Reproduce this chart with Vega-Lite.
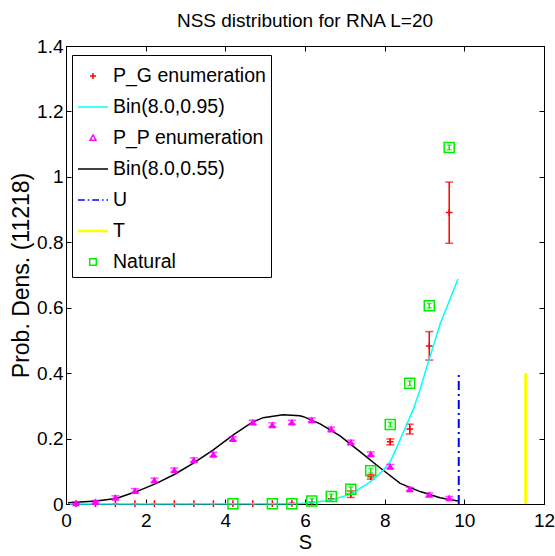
{
  "$schema": "https://vega.github.io/schema/vega-lite/v6.json",
  "width": 478,
  "height": 458,
  "autosize": {"type": "none"},
  "padding": {"left": 66, "top": 46, "right": 11, "bottom": 52},
  "background": "white",
  "title": {"text": "NSS distribution for RNA L=20", "font": "Liberation Sans", "fontSize": 19, "fontWeight": "normal", "color": "black", "offset": 6, "anchor": "middle"},
  "config": {
    "font": "Liberation Sans",
    "view": {"stroke": "black", "strokeWidth": 1},
    "axis": {"grid": false, "domainColor": "black", "domainWidth": 1, "tickColor": "black", "tickSize": -5, "tickWidth": 1, "labelColor": "black", "labelFont": "Liberation Sans", "labelFontSize": 19, "labelFlush": false, "labelOverlap": false, "titleFont": "Liberation Sans", "titleFontSize": 20, "titleFontWeight": "normal", "titleColor": "black"}
  },
  "datasets": {
    "pg": [
      {"S": 0.25, "P": 0.001}, {"S": 0.74, "P": 0.001}, {"S": 1.24, "P": 0.001}, {"S": 1.73, "P": 0.001},
      {"S": 2.22, "P": 0.001}, {"S": 2.72, "P": 0.001}, {"S": 3.21, "P": 0.001}, {"S": 3.70, "P": 0.001},
      {"S": 4.19, "P": 0.001}, {"S": 4.69, "P": 0.001}, {"S": 5.18, "P": 0.001}, {"S": 5.67, "P": 0.002},
      {"S": 6.17, "P": 0.005}, {"S": 6.66, "P": 0.016},
      {"S": 7.15, "P": 0.03, "lo": 0.02, "hi": 0.04},
      {"S": 7.65, "P": 0.083, "lo": 0.076, "hi": 0.09},
      {"S": 8.14, "P": 0.19, "lo": 0.181, "hi": 0.199},
      {"S": 8.63, "P": 0.229, "lo": 0.214, "hi": 0.244},
      {"S": 9.12, "P": 0.483, "lo": 0.44, "hi": 0.527},
      {"S": 9.62, "P": 0.891, "lo": 0.797, "hi": 0.984}
    ],
    "pp": [
      {"S": 0.25, "P": 0.003, "lo": 0.0, "hi": 0.007}, {"S": 0.74, "P": 0.007, "lo": 0.003, "hi": 0.011},
      {"S": 1.24, "P": 0.02, "lo": 0.015, "hi": 0.025}, {"S": 1.73, "P": 0.041, "lo": 0.035, "hi": 0.047},
      {"S": 2.22, "P": 0.073, "lo": 0.067, "hi": 0.079}, {"S": 2.72, "P": 0.104, "lo": 0.098, "hi": 0.11},
      {"S": 3.21, "P": 0.135, "lo": 0.129, "hi": 0.141}, {"S": 3.70, "P": 0.152, "lo": 0.146, "hi": 0.158},
      {"S": 4.19, "P": 0.2, "lo": 0.194, "hi": 0.206}, {"S": 4.69, "P": 0.25, "lo": 0.244, "hi": 0.256},
      {"S": 5.18, "P": 0.242, "lo": 0.236, "hi": 0.248}, {"S": 5.67, "P": 0.25, "lo": 0.244, "hi": 0.256},
      {"S": 6.17, "P": 0.257, "lo": 0.251, "hi": 0.263}, {"S": 6.66, "P": 0.229, "lo": 0.223, "hi": 0.235},
      {"S": 7.15, "P": 0.189, "lo": 0.183, "hi": 0.195}, {"S": 7.65, "P": 0.153, "lo": 0.147, "hi": 0.159},
      {"S": 8.14, "P": 0.115, "lo": 0.109, "hi": 0.121}, {"S": 8.63, "P": 0.046, "lo": 0.041, "hi": 0.051},
      {"S": 9.12, "P": 0.029, "lo": 0.024, "hi": 0.034}, {"S": 9.62, "P": 0.019, "lo": 0.015, "hi": 0.023}
    ],
    "nat": [
      {"S": 4.19, "P": 0.001}, {"S": 5.18, "P": 0.001}, {"S": 5.67, "P": 0.001},
      {"S": 6.17, "P": 0.009, "lo": 0.002, "hi": 0.016},
      {"S": 6.66, "P": 0.023, "lo": 0.016, "hi": 0.03},
      {"S": 7.15, "P": 0.045, "lo": 0.038, "hi": 0.052},
      {"S": 7.65, "P": 0.102, "lo": 0.095, "hi": 0.109},
      {"S": 8.14, "P": 0.243, "lo": 0.236, "hi": 0.25},
      {"S": 8.63, "P": 0.369, "lo": 0.362, "hi": 0.376},
      {"S": 9.12, "P": 0.606, "lo": 0.599, "hi": 0.613},
      {"S": 9.62, "P": 1.09, "lo": 1.083, "hi": 1.097}
    ],
    "bin95": [
      {"S": 0.1, "P": 0.0}, {"S": 5.2, "P": 0.0005}, {"S": 5.7, "P": 0.001}, {"S": 6.18, "P": 0.004},
      {"S": 6.67, "P": 0.012}, {"S": 7.16, "P": 0.031}, {"S": 7.65, "P": 0.068}, {"S": 7.97, "P": 0.104},
      {"S": 8.14, "P": 0.13}, {"S": 8.31, "P": 0.175}, {"S": 8.56, "P": 0.245}, {"S": 8.72, "P": 0.29},
      {"S": 8.89, "P": 0.35}, {"S": 9.06, "P": 0.42}, {"S": 9.4, "P": 0.553}, {"S": 9.62, "P": 0.62},
      {"S": 9.84, "P": 0.688}
    ],
    "bin55": [
      {"S": 0.05, "P": 0.004}, {"S": 0.25, "P": 0.005}, {"S": 0.76, "P": 0.009}, {"S": 1.26, "P": 0.017},
      {"S": 1.77, "P": 0.038}, {"S": 2.27, "P": 0.063}, {"S": 2.73, "P": 0.091}, {"S": 3.19, "P": 0.124},
      {"S": 3.69, "P": 0.165}, {"S": 4.2, "P": 0.211}, {"S": 4.66, "P": 0.249}, {"S": 4.95, "P": 0.264},
      {"S": 5.45, "P": 0.273}, {"S": 5.87, "P": 0.27}, {"S": 5.96, "P": 0.267}, {"S": 6.38, "P": 0.245},
      {"S": 6.88, "P": 0.208}, {"S": 7.38, "P": 0.16}, {"S": 7.89, "P": 0.11}, {"S": 8.39, "P": 0.063},
      {"S": 8.89, "P": 0.038}, {"S": 9.39, "P": 0.019}, {"S": 9.84, "P": 0.009}
    ],
    "u": [{"S": 9.86, "y0": 0, "y1": 0.4}],
    "t": [{"S": 11.54, "y0": 0, "y1": 0.4}],
    "legend": [
      {"series": "P_G enumeration"}, {"series": "Bin(8.0,0.95)"}, {"series": "P_P enumeration"},
      {"series": "Bin(8.0,0.55)"}, {"series": "U"}, {"series": "T"}, {"series": "Natural"}
    ]
  },
  "layer": [
    {
      "data": {"name": "bin55"},
      "mark": {"type": "line", "color": "black", "strokeWidth": 1.5, "clip": true},
      "encoding": {
        "x": {"field": "S", "type": "quantitative", "scale": {"domain": [0, 12], "nice": false, "zero": false},
          "axis": {"values": [0, 2, 4, 6, 8, 10, 12], "title": "S", "labelPadding": 12, "titlePadding": 2}},
        "y": {"field": "P", "type": "quantitative", "scale": {"domain": [0, 1.4], "nice": false, "zero": false},
          "axis": {"values": [0, 0.2, 0.4, 0.6, 0.8, 1, 1.2, 1.4], "format": "~g", "title": "Prob. Dens. (11218)", "titleFontSize": 23, "labelPadding": 8, "titlePadding": 3}}
      }
    },
    {
      "data": {"name": "pg"},
      "transform": [{"filter": "datum.lo != null"}],
      "mark": {"type": "rule", "color": "#ff0000", "strokeWidth": 1.5},
      "encoding": {
        "x": {"field": "S", "type": "quantitative", "axis": {"orient": "top", "values": [0, 2, 4, 6, 8, 10, 12], "labels": false, "title": null}},
        "y": {"field": "lo", "type": "quantitative", "axis": {"orient": "right", "values": [0, 0.2, 0.4, 0.6, 0.8, 1, 1.2, 1.4], "labels": false, "title": null}},
        "y2": {"field": "hi"}
      }
    },
    {
      "data": {"name": "pg"},
      "transform": [{"filter": "datum.lo != null"}],
      "mark": {"type": "tick", "orient": "horizontal", "color": "#ff0000", "size": 8, "thickness": 1.5},
      "encoding": {
        "x": {"field": "S", "type": "quantitative", "axis": null},
        "y": {"field": "lo", "type": "quantitative", "axis": null}
      }
    },
    {
      "data": {"name": "pg"},
      "transform": [{"filter": "datum.lo != null"}],
      "mark": {"type": "tick", "orient": "horizontal", "color": "#ff0000", "size": 8, "thickness": 1.5},
      "encoding": {
        "x": {"field": "S", "type": "quantitative", "axis": null},
        "y": {"field": "hi", "type": "quantitative", "axis": null}
      }
    },
    {
      "data": {"name": "pg"},
      "mark": {"type": "point", "shape": "M-1,0H1M0,-1V1", "filled": false, "color": "#ff0000", "size": 45, "strokeWidth": 1.5, "opacity": 1},
      "encoding": {
        "x": {"field": "S", "type": "quantitative", "axis": null},
        "y": {"field": "P", "type": "quantitative", "axis": null}
      }
    },
    {
      "data": {"name": "bin95"},
      "mark": {"type": "line", "color": "#00ffff", "strokeWidth": 1.5},
      "encoding": {
        "x": {"field": "S", "type": "quantitative", "axis": null},
        "y": {"field": "P", "type": "quantitative", "axis": null}
      }
    },
    {
      "data": {"name": "pp"},
      "mark": {"type": "rule", "color": "#ff00ff", "strokeWidth": 1.5},
      "encoding": {
        "x": {"field": "S", "type": "quantitative", "axis": null},
        "y": {"field": "lo", "type": "quantitative", "axis": null},
        "y2": {"field": "hi"}
      }
    },
    {
      "data": {"name": "pp"},
      "mark": {"type": "tick", "orient": "horizontal", "color": "#ff00ff", "size": 8, "thickness": 1.5},
      "encoding": {
        "x": {"field": "S", "type": "quantitative", "axis": null},
        "y": {"field": "hi", "type": "quantitative", "axis": null}
      }
    },
    {
      "data": {"name": "pp"},
      "mark": {"type": "point", "shape": "triangle-up", "filled": true, "color": "#ff00ff", "size": 60, "strokeWidth": 1, "opacity": 1},
      "encoding": {
        "x": {"field": "S", "type": "quantitative", "axis": null},
        "y": {"field": "P", "type": "quantitative", "axis": null}
      }
    },
    {
      "data": {"name": "pp"},
      "mark": {"type": "tick", "orient": "horizontal", "color": "#ff00ff", "size": 8, "thickness": 1.5},
      "encoding": {
        "x": {"field": "S", "type": "quantitative", "axis": null},
        "y": {"field": "lo", "type": "quantitative", "axis": null}
      }
    },
    {
      "data": {"name": "u"},
      "mark": {"type": "rule", "color": "#0000ff", "strokeWidth": 2, "strokeDash": [9, 4, 2, 4]},
      "encoding": {
        "x": {"field": "S", "type": "quantitative", "axis": null},
        "y": {"field": "y0", "type": "quantitative", "axis": null},
        "y2": {"field": "y1"}
      }
    },
    {
      "data": {"name": "t"},
      "mark": {"type": "rule", "color": "#ffff00", "strokeWidth": 3},
      "encoding": {
        "x": {"field": "S", "type": "quantitative", "axis": null},
        "y": {"field": "y0", "type": "quantitative", "axis": null},
        "y2": {"field": "y1"}
      }
    },
    {
      "data": {"name": "nat"},
      "transform": [{"filter": "datum.lo != null"}],
      "mark": {"type": "rule", "color": "#00ee00", "strokeWidth": 1.5},
      "encoding": {
        "x": {"field": "S", "type": "quantitative", "axis": null},
        "y": {"field": "lo", "type": "quantitative", "axis": null},
        "y2": {"field": "hi"}
      }
    },
    {
      "data": {"name": "nat"},
      "transform": [{"filter": "datum.lo != null"}],
      "mark": {"type": "tick", "orient": "horizontal", "color": "#00ee00", "size": 5, "thickness": 1.5},
      "encoding": {
        "x": {"field": "S", "type": "quantitative", "axis": null},
        "y": {"field": "lo", "type": "quantitative", "axis": null}
      }
    },
    {
      "data": {"name": "nat"},
      "transform": [{"filter": "datum.lo != null"}],
      "mark": {"type": "tick", "orient": "horizontal", "color": "#00ee00", "size": 5, "thickness": 1.5},
      "encoding": {
        "x": {"field": "S", "type": "quantitative", "axis": null},
        "y": {"field": "hi", "type": "quantitative", "axis": null}
      }
    },
    {
      "data": {"name": "nat"},
      "mark": {"type": "point", "shape": "square", "filled": false, "color": "#00ee00", "size": 100, "strokeWidth": 1.5, "opacity": 1},
      "encoding": {
        "x": {"field": "S", "type": "quantitative", "axis": null},
        "y": {"field": "P", "type": "quantitative", "axis": null}
      }
    },
    {
      "data": {"name": "legend"},
      "mark": {"type": "point", "filled": false},
      "encoding": {
        "opacity": {"value": 0},
        "color": {"field": "series", "type": "nominal",
          "scale": {"domain": ["P_G enumeration", "Bin(8.0,0.95)", "P_P enumeration", "Bin(8.0,0.55)", "U", "T", "Natural"],
            "range": ["#ff0000", "#00ffff", "#ff00ff", "#000000", "#0000ff", "#ffff00", "#00ee00"]},
          "legend": {"orient": "none", "legendX": 6, "legendY": 9, "title": null, "symbolSize": 900, "symbolStrokeWidth": 1.5,
            "labelFont": "Liberation Sans", "labelFontSize": 19.5, "labelColor": "black", "labelOffset": 4, "padding": 5,
            "strokeColor": "black", "fillColor": "white", "rowPadding": 5, "labelLimit": 300}},
        "shape": {"field": "series", "type": "nominal",
          "scale": {"domain": ["P_G enumeration", "Bin(8.0,0.95)", "P_P enumeration", "Bin(8.0,0.55)", "U", "T", "Natural"],
            "range": ["M-0.2,0H0.2M0,-0.2V0.2", "M-1,0H1", "M0,-0.2L0.2,0.15L-0.2,0.15Z", "M-1,0H1", "M-1,0H-0.55M-0.35,0H-0.25M-0.05,0H0.4M0.6,0H0.7M0.9,0H1", "M-1,-0.04H1M-1,0.04H1", "M-0.22,-0.22H0.22V0.22H-0.22Z"]},
          "legend": {"orient": "none", "legendX": 6, "legendY": 9, "title": null, "symbolSize": 900, "symbolStrokeWidth": 1.5,
            "labelFont": "Liberation Sans", "labelFontSize": 19.5, "labelColor": "black", "labelOffset": 4, "padding": 5,
            "strokeColor": "black", "fillColor": "white", "rowPadding": 5, "labelLimit": 300}}
      }
    }
  ],
  "resolve": {"axis": {"x": "independent", "y": "independent"}}
}
